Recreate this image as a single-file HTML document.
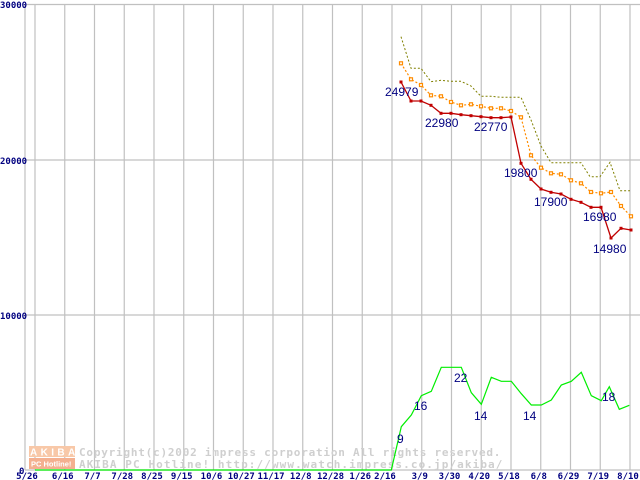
<!DOCTYPE html>
<html><head><meta charset="utf-8"><style>
html,body{margin:0;padding:0;background:#fff;width:640px;height:480px;overflow:hidden}
svg{display:block}
.ax{font-family:"DejaVu Sans Mono","Liberation Mono",monospace;font-size:9px;font-weight:bold;fill:#000080}
.lb{font-family:"Liberation Sans",sans-serif;font-size:12px;fill:#000080}
.wm{font-family:"DejaVu Sans Mono","Liberation Mono",monospace;font-size:11px;font-weight:bold;fill:#cfcfcf;letter-spacing:0.6px}
</style></head><body>
<svg width="640" height="480" viewBox="0 0 640 480" xmlns="http://www.w3.org/2000/svg">
<g stroke="#c0c0c0" stroke-width="1.2" fill="none">
<line x1="25" y1="4" x2="25" y2="470"/>
<line x1="25" y1="4.5" x2="640" y2="4.5"/>
<line x1="25" y1="160" x2="640" y2="160"/>
<line x1="25" y1="315" x2="640" y2="315"/>
<line x1="25" y1="470" x2="640" y2="470"/>
<g id="vg"></g>
</g>
<g id="vlines" stroke="#c0c0c0" stroke-width="1.2"></g>
<text class="ax" x="0" y="8">30000</text>
<text class="ax" x="0" y="164">20000</text>
<text class="ax" x="0" y="319">10000</text>
<text class="ax" x="19" y="474">0</text>
<g id="xl"></g>
<!-- watermark -->
<g>
<rect x="29" y="446" width="46" height="11" fill="#f8c8a8"/>
<text x="30" y="455.5" font-family="Liberation Sans,sans-serif" font-size="10" font-weight="bold" fill="#fff" letter-spacing="3.4">AKIBA</text>
<rect x="29" y="458" width="46" height="11" fill="#f4b090"/>
<text x="31" y="466.5" font-family="Liberation Sans,sans-serif" font-size="7.5" font-weight="bold" fill="#fff">PC Hotline!</text>
<text class="wm" x="79" y="456" textLength="422">Copyright(c)2002 impress corporation All rights reserved.</text>
<text class="wm" x="79" y="468" textLength="424">AKIBA PC Hotline!  http://www.watch.impress.co.jp/akiba/</text>
</g>
<polyline fill="none" stroke="#808000" stroke-width="1" stroke-dasharray="2,2" points="401,36.7 411,68.3 421,68.3 431,81.7 441,80.3 451,81.3 461,81.3 471,86 481,96.3 491,96.3 501,97.3 511,97.3 521,97.3 531,120 541,146 551,162.7 561,162.7 571,162.7 581,162.7 590,176.7 600,176.7 610,162.3 620,190.7 630,190.7"/>
<polyline fill="none" stroke="#ff8c00" stroke-width="1.2" stroke-dasharray="2,2" points="401,63.3 411,79.3 421,85 431,95.3 441,96.3 451,102 461,105.3 471,104.3 481,106.3 491,108.3 501,108.3 511,111 521,117.3 531,155.3 541,167.7 551,173.3 561,174.3 571,180.3 581,183.3 591,192 601,193.3 611,192 621,206 631,216.3"/>
<g id="om" fill="#fff" stroke="#ff8c00" stroke-width="1.2"></g>
<polyline fill="none" stroke="#c00000" stroke-width="1.3" points="401,82 411,101 421,101 431,105.3 441,113.3 451,113.3 461,114.7 471,115.7 481,116.7 491,117.7 501,117.7 511,117 521,163.3 531,179.3 541,189 551,192.3 561,194 571,199.3 581,202.3 591,207.3 601,207.3 611,238 621,228.3 631,230"/>
<g id="rm" fill="#c00000"></g>
<polyline fill="none" stroke="#00ee00" stroke-width="1.2" points="35,470 391.3,470 401.3,426.7 411.3,415 421.3,395.7 431.3,391.3 441.3,367.3 451.3,367.3 461.3,367.3 471.3,392.7 481.3,404.3 491.3,377.3 501.3,381.3 511.3,381.3 521.3,393.7 531.3,405 541.3,405 551.3,400 561.3,385 571.3,381.3 581.3,372.3 591.3,395.7 601.3,400.7 609.3,386.7 619.3,409.3 629.3,405.3"/>
<text class="lb" x="385" y="96">24979</text>
<text class="lb" x="425" y="127">22980</text>
<text class="lb" x="474" y="131">22770</text>
<text class="lb" x="504" y="177">19800</text>
<text class="lb" x="534" y="206">17900</text>
<text class="lb" x="583" y="221">16980</text>
<text class="lb" x="593" y="253">14980</text>
<text class="lb" x="397" y="443">9</text>
<text class="lb" x="414" y="410">16</text>
<text class="lb" x="454" y="382">22</text>
<text class="lb" x="474" y="420">14</text>
<text class="lb" x="523" y="420">14</text>
<text class="lb" x="602" y="401">18</text>
</svg>
<script>
var ns="http://www.w3.org/2000/svg",s=document.querySelector('svg');
var vl=document.getElementById('vlines'),xl=document.getElementById('xl');
var labs="5/26 6/16 7/7 7/28 8/25 9/15 10/6 10/27 11/17 12/8 12/28 1/26 2/16 3/9 3/30 4/20 5/18 6/8 6/29 7/19 8/10".split(" ");
for(var i=0;i<21;i++){var x=35+i*29.75;var l=document.createElementNS(ns,'line');l.setAttribute('x1',x);l.setAttribute('x2',x);l.setAttribute('y1',4);l.setAttribute('y2',470);vl.appendChild(l);
var t=document.createElementNS(ns,'text');t.setAttribute('class','ax');t.setAttribute('x',x-(i==0?8:i==12?7:2));t.setAttribute('y',479);t.setAttribute('text-anchor','middle');t.textContent=labs[i];xl.appendChild(t);}
function mk(id,pts,filled){var g=document.getElementById(id);pts.split(' ').forEach(function(p){var a=p.split(',');var r=document.createElementNS(ns,'rect');r.setAttribute('x',+a[0]-1.5);r.setAttribute('y',+a[1]-1.5);r.setAttribute('width',3);r.setAttribute('height',3);g.appendChild(r);});}
mk('om',document.querySelectorAll('polyline')[1].getAttribute('points'));
mk('rm',document.querySelectorAll('polyline')[2].getAttribute('points'));
</script>
</body></html>
